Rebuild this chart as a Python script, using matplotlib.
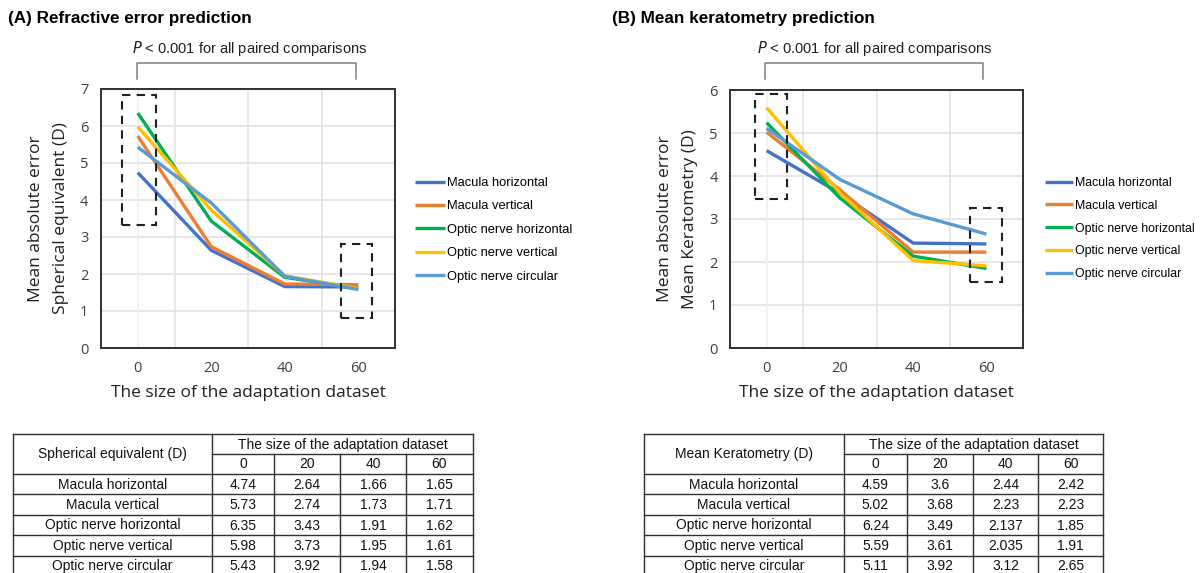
import matplotlib.pyplot as plt
from matplotlib.patches import Rectangle

# categories / series
sizes = ["0", "20", "40", "60"]
series_names = ["Macula horizontal", "Macula vertical", "Optic nerve horizontal",
                "Optic nerve vertical", "Optic nerve circular"]
colors = ["#4472C4", "#ED7D31", "#00B050", "#FFC000", "#5B9BD5"]

# (A) spherical equivalent MAE
se_macula_h = [4.74, 2.64, 1.66, 1.65]
se_macula_v = [5.73, 2.74, 1.73, 1.71]
se_optic_h = [6.35, 3.43, 1.91, 1.62]
se_optic_v = [5.98, 3.73, 1.95, 1.61]
se_optic_c = [5.43, 3.92, 1.94, 1.58]

# (B) mean keratometry MAE (table values)
ker_macula_h = [4.59, 3.6, 2.44, 2.42]
ker_macula_v = [5.02, 3.68, 2.23, 2.23]
ker_optic_h = [6.24, 3.49, 2.137, 1.85]
ker_optic_v = [5.59, 3.61, 2.035, 1.91]
ker_optic_c = [5.11, 3.92, 3.12, 2.65]
# the line in the published chart starts near 5.24, not at the table's 6.24
ker_optic_h_line = [5.24, 3.49, 2.137, 1.85]

se_rows = [se_macula_h, se_macula_v, se_optic_h, se_optic_v, se_optic_c]
ker_rows = [ker_macula_h, ker_macula_v, ker_optic_h, ker_optic_v, ker_optic_c]
ker_lines = [ker_macula_h, ker_macula_v, ker_optic_h_line, ker_optic_v, ker_optic_c]

W, H = 1202, 573
ARIAL = "Liberation Sans"
SEGOE = "Open Sans"

fig = plt.figure(figsize=(W / 100, H / 100), dpi=100)
bg = fig.add_axes([0, 0, 1, 1])
bg.set_xlim(0, W)
bg.set_ylim(H, 0)
bg.axis("off")


def px_axes(left, top, right, bottom):
    return fig.add_axes([left / W, 1 - bottom / H, (right - left) / W, (bottom - top) / H])


def draw_panel(ax, rows, ymax, ylabel, boxes):
    x = range(len(sizes))
    for vals, name, c in zip(rows, series_names, colors):
        ax.plot(x, vals, color=c, lw=2.4, label=name, solid_capstyle="butt", zorder=3)
    ax.set_xlim(-0.5, len(sizes) - 0.5)
    ax.set_ylim(0, ymax)
    ax.set_yticks(range(ymax + 1))
    ax.set_xticks(list(x))
    ax.set_xticklabels(sizes)
    for yv in range(1, ymax + 1):
        ax.axhline(yv, color="#e3e3e3", lw=1.2, zorder=1)
    for xv in [0.5, 1.5, 2.5]:
        ax.axvline(xv, color="#e3e3e3", lw=1.2, zorder=1)
    ax.axvline(0, color="#f0f0f0", lw=1.2, zorder=1)
    ax.tick_params(length=0, labelsize=10.5, labelcolor="#404040", pad=9)
    for lab in ax.get_xticklabels() + ax.get_yticklabels():
        lab.set_fontfamily(SEGOE)
    for s in ax.spines.values():
        s.set_color("#303030")
        s.set_linewidth(1.4)
    ax.set_xlabel("The size of the adaptation dataset", fontsize=12.5, family=SEGOE,
                  color="#202020", labelpad=7)
    ax.set_ylabel(ylabel, fontsize=12.5, family=SEGOE, color="#202020",
                  labelpad=8, linespacing=1.75)
    for (x0, x1, y0, y1) in boxes:
        ax.add_patch(Rectangle((x0, y0), x1 - x0, y1 - y0, fill=False, ls=(0, (4, 3)),
                               lw=1.5, ec="#202020", zorder=4, clip_on=False))


def draw_legend(ax, left_px, top_px, size):
    ax.legend(loc="upper left", bbox_to_anchor=(left_px / W, 1 - top_px / H),
              bbox_transform=fig.transFigure, frameon=False,
              prop={"family": ARIAL, "size": size}, handlelength=2.3,
              handletextpad=0.15, labelspacing=0.88, borderpad=0, borderaxespad=0)


def draw_bracket(x0, x1, text_x):
    bg.plot([x0, x0, x1, x1], [79, 63, 63, 79], color="#7f7f7f", lw=1.1)
    bg.text(text_x, 49, r"$\it{P}$ < 0.001 for all paired comparisons", ha="center", va="center",
            fontsize=10.5, family=ARIAL, color="#202020")


def draw_table(left, cols, header, rows, fmt):
    top, r1, r2 = 434, 454, 474
    row_h = 20.4
    right = cols[-1]
    n = len(rows)
    bottom = r2 + row_h * n
    kw = dict(color="#303030", lw=1.0, clip_on=False)
    bg.plot([left, right], [top, top], **kw)
    bg.plot([cols[0], right], [r1, r1], **kw)
    for i in range(n + 1):
        y = r2 + row_h * i
        bg.plot([left, right], [y, y], **kw)
    bg.plot([left, left], [top, bottom], **kw)
    bg.plot([right, right], [top, bottom], **kw)
    bg.plot([cols[0], cols[0]], [top, bottom], **kw)
    for c in cols[1:-1]:
        bg.plot([c, c], [r1, bottom], **kw)
    tk = dict(ha="center", va="center", fontsize=10, family=ARIAL, color="#111111")
    bg.text((left + cols[0]) / 2, (top + r2) / 2, header, **tk)
    bg.text((cols[0] + right) / 2, (top + r1) / 2 + 0.5, "The size of the adaptation dataset", **tk)
    for j, s in enumerate(sizes):
        bg.text((cols[j] + cols[j + 1]) / 2, (r1 + r2) / 2 + 0.5, s, **tk)
    for i, (name, vals) in enumerate(zip(series_names, rows)):
        yc = r2 + row_h * (i + 0.5) + 0.5
        bg.text((left + cols[0]) / 2, yc, name, **tk)
        for j, v in enumerate(vals):
            bg.text((cols[j] + cols[j + 1]) / 2, yc, fmt(v), **tk)


# titles
bg.text(8, 18, "(A) Refractive error prediction", fontsize=12.3, fontweight="bold",
        family=ARIAL, va="center", ha="left")
bg.text(612, 18, "(B) Mean keratometry prediction", fontsize=12.3, fontweight="bold",
        family=ARIAL, va="center", ha="left")

# panel A
axA = px_axes(101, 89, 395, 348)
draw_panel(axA, se_rows, 7, "Mean absolute error\nSpherical equivalent (D)",
           [(-0.21, 0.25, 3.32, 6.84), (2.77, 3.19, 0.81, 2.81)])
draw_legend(axA, 415, 177, 9.3)
draw_bracket(137, 356, 250)

# panel B
axB = px_axes(730, 90, 1023, 348)
draw_panel(axB, ker_lines, 6, "Mean absolute error\nMean Keratometry (D)",
           [(-0.16, 0.28, 3.47, 5.9), (2.78, 3.21, 1.53, 3.26)])
draw_legend(axB, 1045, 177, 8.8)
draw_bracket(765, 983, 875)

# tables
draw_table(13, [212, 274, 340, 406, 473], "Spherical equivalent (D)", se_rows, lambda v: f"{v:g}")
draw_table(644, [844, 907, 973, 1038, 1103], "Mean Keratometry (D)", ker_rows, lambda v: f"{v:g}")

fig.savefig("out.png", dpi=100)
